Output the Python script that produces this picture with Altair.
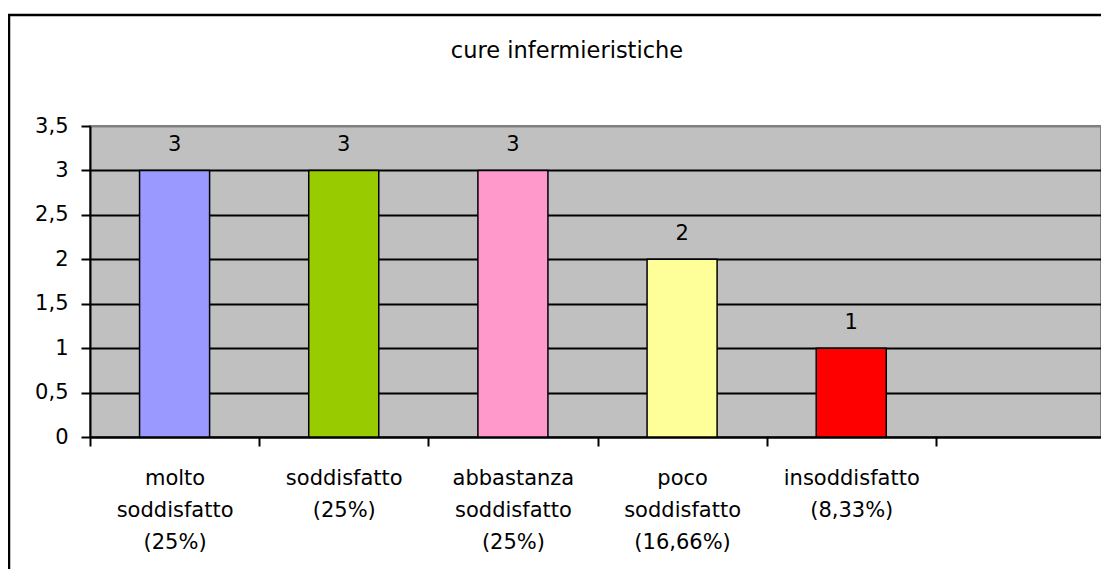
import altair as alt
import pandas as pd

# ---- data ----
categories = [
    "molto|soddisfatto|(25%)",
    "soddisfatto|(25%)",
    "abbastanza|soddisfatto|(25%)",
    "poco|soddisfatto|(16,66%)",
    "insoddisfatto|(8,33%)",
]
empty_slot = " "
values = [3, 3, 3, 2, 1]
colors = ["#9999FF", "#99CC00", "#FF99CC", "#FFFF99", "#FF0000"]
title_text = "cure infermieristiche"
y_ticks = [0, 0.5, 1, 1.5, 2, 2.5, 3, 3.5]

FONT = "DejaVu Sans"
W, H = 1011, 311
X_RANGE = 1015

df = pd.DataFrame({"cat": categories, "val": values, "color": colors})

x_enc = alt.X(
    "cat:N",
    sort=None,
    scale=alt.Scale(domain=categories + [empty_slot], paddingInner=0, paddingOuter=0,
                    range=[0, X_RANGE]),
    axis=alt.Axis(
        title=None,
        labelAngle=0,
        tickBand="extent",
        labelExpr="split(datum.label, '|')",
        labelBaseline="top",
        labelLineHeight=32,
        labelPadding=21,
        labelFontSize=21,
        labelFont=FONT,
        labelColor="black",
        tickSize=9,
        tickWidth=2,
        tickColor="black",
        domainColor="black",
        domainWidth=2,
        grid=False,
        labelOverlap=False,
    ),
)
y_enc = alt.Y(
    "val:Q",
    scale=alt.Scale(domain=[0, 3.5], nice=False),
    axis=alt.Axis(
        title=None,
        values=y_ticks,
        format=".1~f",
        labelExpr="replace(datum.label, '.', ',')",
        labelFontSize=21,
        labelFont=FONT,
        labelColor="black",
        labelPadding=13,
        tickSize=9,
        tickWidth=2,
        tickColor="black",
        domainColor="black",
        domainWidth=2,
        grid=True,
        gridColor=alt.condition("datum.value == 3.5", alt.value("#808080"), alt.value("black")),
        gridWidth=2,
    ),
)

bars = alt.Chart(df).mark_bar(
    width=alt.RelativeBandSize(0.414), stroke="black", strokeWidth=1.5
).encode(x=x_enc, y=y_enc, color=alt.Color("color:N", scale=None))

labels = alt.Chart(df).mark_text(
    dy=-19, baseline="alphabetic", fontSize=21, font=FONT, color="black"
).encode(x=x_enc, y=y_enc, text=alt.Text("val:Q"))

title = alt.Chart(pd.DataFrame({"t": [title_text]})).mark_text(
    baseline="alphabetic", align="center", fontSize=22.5, font=FONT, color="black"
).encode(x=alt.value(477), y=alt.value(-68), text="t:N")

frame = alt.Chart(pd.DataFrame({"a": [0]})).mark_rect(
    filled=False, stroke="black", strokeWidth=2.5
).encode(x=alt.value(-81), x2=alt.value(1300), y=alt.value(-111), y2=alt.value(700))

chart = alt.layer(frame, bars, labels, title).properties(
    width=W,
    height=H,
    autosize=alt.AutoSizeParams(type="none"),
    padding={"left": 82, "top": 118, "right": 0, "bottom": 132},
    background="white",
).configure_view(
    fill="#C0C0C0", stroke="#808080", strokeWidth=2
)

chart.save("out.html", embed_options={"renderer": "svg", "actions": False})
